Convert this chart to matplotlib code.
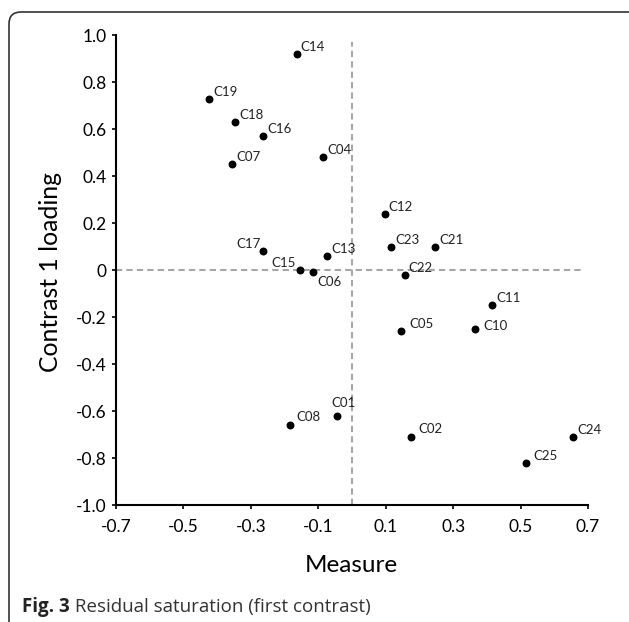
import matplotlib
matplotlib.use("Agg")
import matplotlib.pyplot as plt
from matplotlib.patches import FancyBboxPatch

plt.rcParams["font.family"] = ["Lato", "DejaVu Sans"]
plt.rcParams["axes.unicode_minus"] = False

# Item labels with measure (x) and contrast 1 loading (y)
items = ["C14", "C19", "C18", "C16", "C07", "C04", "C17", "C15", "C06", "C13",
         "C12", "C23", "C21", "C22", "C11", "C05", "C10", "C01", "C08", "C02",
         "C25", "C24"]
measure = [-0.164, -0.424, -0.346, -0.264, -0.355, -0.085, -0.264, -0.155, -0.115, -0.073,
           0.097, 0.115, 0.246, 0.156, 0.416, 0.146, 0.366, -0.044, -0.185, 0.176,
           0.516, 0.657]
loading = [0.92, 0.73, 0.63, 0.57, 0.45, 0.48, 0.08, 0.0, -0.01, 0.06,
           0.24, 0.10, 0.10, -0.02, -0.15, -0.26, -0.25, -0.62, -0.66, -0.71,
           -0.82, -0.71]

x_ticks = [-0.7, -0.5, -0.3, -0.1, 0.1, 0.3, 0.5, 0.7]
y_ticks = [1.0, 0.8, 0.6, 0.4, 0.2, 0.0, -0.2, -0.4, -0.6, -0.8, -1.0]
y_tick_labels = ["1.0", "0.8", "0.6", "0.4", "0.2", "0", "-0.2", "-0.4", "-0.6", "-0.8", "-1.0"]

# label placement (offset in points, horizontal alignment)
label_pos = {
    "C17": ((-2, 5), "right"),
    "C15": ((-3, 5), "right"),
    "C06": ((3, -7), "left"),
    "C01": ((-4, 9), "left"),
    "C10": ((6, 2), "left"),
    "C05": ((6, 5), "left"),
    "C08": ((5, 6), "left"),
    "C02": ((5, 6), "left"),
    "C25": ((5, 5), "left"),
}

fig = plt.figure(figsize=(6.29, 6.22), dpi=100)
ax = fig.add_axes([0.1844, 0.188, 0.7504, 0.7556])

ax.axhline(0, xmin=0, xmax=0.985, color="#a6a6a6", lw=1.5, dashes=(3, 2), zorder=1)
ax.axvline(0, ymin=0, ymax=0.985, color="#a6a6a6", lw=1.5, dashes=(3, 2), zorder=1)

ax.scatter(measure, loading, s=22, color="black", zorder=3)

for name, xv, yv in zip(items, measure, loading):
    offset, ha = label_pos.get(name, ((3, 5), "left"))
    ax.annotate(name, (xv, yv), xytext=offset, textcoords="offset points",
                ha=ha, va="center", fontsize=9.5, color="#222222")

ax.set_xlim(-0.7, 0.7)
ax.set_ylim(-1.0, 1.0)
ax.set_xticks(x_ticks)
ax.set_xticklabels([f"{v:.1f}" for v in x_ticks])
ax.set_yticks(y_ticks)
ax.set_yticklabels(y_tick_labels)
ax.tick_params(direction="out", length=3, width=1.2, labelsize=12.5)
ax.tick_params(axis="x", pad=7)
ax.tick_params(axis="y", pad=4)

for side in ["top", "right"]:
    ax.spines[side].set_visible(False)
for side in ["left", "bottom"]:
    ax.spines[side].set_linewidth(1.5)

fig.text(0.559, 0.0916, "Measure", ha="center", va="center", fontsize=17.5)
fig.text(0.081, 0.563, "Contrast 1 loading", ha="center", va="center",
         rotation=90, fontsize=17.8)

# rounded frame around the figure
frame = FancyBboxPatch((0.09, -0.3), 6.5, 6.4, boxstyle="round,pad=0,rounding_size=0.12",
                       transform=fig.dpi_scale_trans, facecolor="none",
                       edgecolor="#333333", lw=1.2, clip_on=False)
fig.patches.append(frame)

cap_font = ["Open Sans", "DejaVu Sans"]
cap = fig.text(0.035, 0.0247, "Fig. 3", ha="left", va="center", fontsize=13.5,
               fontweight="bold", family=cap_font, color="#222222")
ax.annotate(" Residual saturation (first contrast)", xy=(1, 0.5), xycoords=cap,
            ha="left", va="center", fontsize=13.5, family=cap_font,
            color="#333333", annotation_clip=False)

fig.savefig("out.png", dpi=100)
